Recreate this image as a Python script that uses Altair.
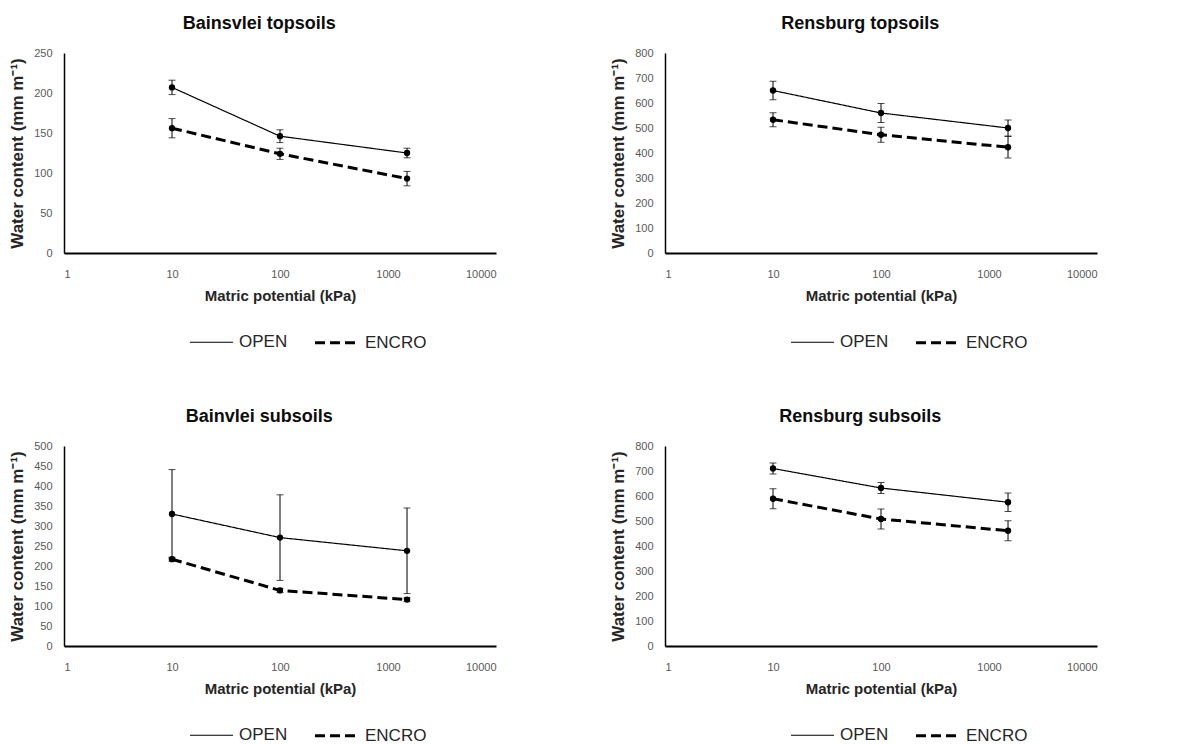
import altair as alt
import pandas as pd

potential = [10, 100, 1500]
treatments = ["OPEN", "ENCRO"]
titles = ["Bainsvlei topsoils", "Rensburg topsoils", "Bainvlei subsoils", "Rensburg subsoils"]

bt_open = [207, 146, 125]
bt_open_err = [9, 8, 6]
bt_encro = [156, 124, 93]
bt_encro_err = [12, 7, 9]

rt_open = [650, 560, 500]
rt_open_err = [37, 38, 32]
rt_encro = [533, 473, 423]
rt_encro_err = [28, 30, 43]

bs_open = [330, 271, 238]
bs_open_err = [111, 107, 107]
bs_encro = [217, 139, 116]
bs_encro_err = [5, 5, 5]

rs_open = [710, 632, 575]
rs_open_err = [22, 22, 37]
rs_encro = [589, 508, 461]
rs_encro_err = [40, 40, 40]

x_ticks = [1, 10, 100, 1000, 10000]
y_max = [250, 800, 500, 800]
y_step = [50, 100, 50, 100]

FONT = "Liberation Sans"


def make_df(open_v, open_e, encro_v, encro_e):
    rows = []
    for t, vals, errs in [("OPEN", open_v, open_e), ("ENCRO", encro_v, encro_e)]:
        for k, v, e in zip(potential, vals, errs):
            rows.append({"treatment": t, "kpa": k, "value": v, "lo": v - e, "hi": v + e})
    return pd.DataFrame(rows)


def panel(title, df, ymax, ystep):
    base = alt.Chart(df)
    xscale = alt.Scale(type="log", domain=[1, 10000], nice=False)
    xaxis = alt.Axis(values=x_ticks, format="d", title="Matric potential (kPa)")
    yscale = alt.Scale(domain=[0, ymax], nice=False)
    yaxis = alt.Axis(values=list(range(0, ymax + 1, ystep)), labelOverlap=False,
                     title="Water content (mm m⁻¹)")
    x = alt.X("kpa:Q", scale=xscale, axis=xaxis)

    def Y(field):
        return alt.Y(field, scale=yscale, axis=yaxis)

    dash = alt.StrokeDash(
        "treatment:N",
        scale=alt.Scale(domain=treatments, range=[[1, 0], [10, 5]]),
        legend=alt.Legend(orient="none", legendX=125, legendY=266, direction="horizontal",
                          title=None, symbolType="stroke", symbolSize=1850,
                          symbolStrokeColor="black", symbolStrokeWidth=2,
                          labelFontSize=17, labelFont=FONT, labelColor="#262626",
                          columnPadding=20, labelOffset=5))
    sw = alt.StrokeWidth("treatment:N",
                         scale=alt.Scale(domain=treatments, range=[1.2, 3]), legend=None)
    line = base.mark_line(color="black").encode(x=x, y=Y("value:Q"), strokeDash=dash,
                                                strokeWidth=sw)
    err = base.mark_rule(color="black", strokeWidth=1).encode(
        x=x, y=Y("lo:Q"), y2="hi:Q")
    cap_lo = base.mark_tick(color="black", orient="horizontal", size=7, thickness=1).encode(
        x=x, y=Y("lo:Q"))
    cap_hi = base.mark_tick(color="black", orient="horizontal", size=7, thickness=1).encode(
        x=x, y=Y("hi:Q"))
    pts = base.mark_circle(color="black", size=40, opacity=1).encode(x=x, y=Y("value:Q"))
    return alt.layer(line, err, cap_lo, cap_hi, pts).properties(
        width=432, height=200,
        title=alt.TitleParams(title, fontSize=18, fontWeight="bold", font=FONT,
                              color="#0d0d0d", offset=14, frame="bounds", dx=7))


data = [
    (bt_open, bt_open_err, bt_encro, bt_encro_err),
    (rt_open, rt_open_err, rt_encro, rt_encro_err),
    (bs_open, bs_open_err, bs_encro, bs_encro_err),
    (rs_open, rs_open_err, rs_encro, rs_encro_err),
]

panels = [panel(titles[i], make_df(*data[i]), y_max[i], y_step[i]) for i in range(4)]

chart = alt.concat(*panels, columns=2, spacing={"row": 57, "column": 113}).resolve_scale(
    strokeDash="independent", strokeWidth="independent", y="independent", x="independent"
).resolve_legend(strokeDash="independent").properties(
    padding={"left": 0, "top": 7, "right": 5, "bottom": 2}
).configure_view(stroke=None).configure_axis(
    grid=False, ticks=False, labelFont=FONT, titleFont=FONT, labelFontSize=11,
    labelColor="#595959", titleFontWeight="bold", titleColor="#262626",
    domainColor="black"
).configure_axisX(
    domainWidth=1.8, labelPadding=15, titlePadding=9, titleFontSize=15
).configure_axisY(
    domainWidth=1.5, labelPadding=12, titlePadding=7, titleFontSize=17
)

chart.save("out.html", embed_options={"renderer": "svg", "actions": False})
